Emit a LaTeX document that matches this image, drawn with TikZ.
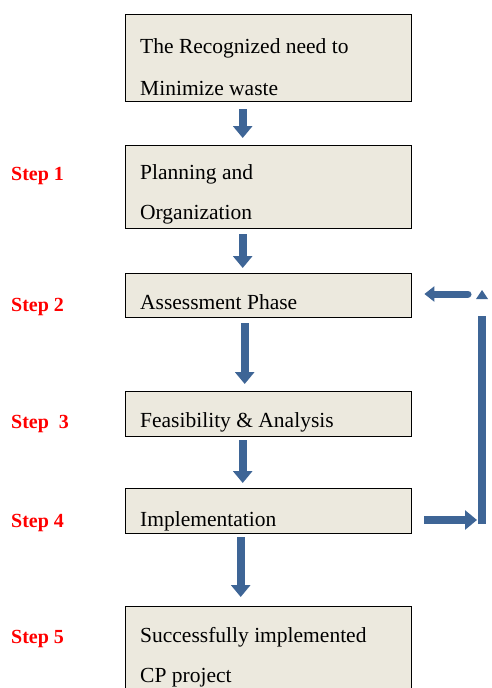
\documentclass[tikz,border=0pt]{standalone}
\usepackage{fontspec}
\setmainfont{Liberation Serif}
\usetikzlibrary{arrows.meta}
\definecolor{boxfill}{HTML}{ECE9DE}
\definecolor{arrblue}{HTML}{3E6596}
\tikzset{
  box/.style={draw=black, line width=1.4pt, fill=boxfill, inner sep=0pt, anchor=north west, minimum width=286pt},
  txt/.style={anchor=base west, inner sep=0pt, font=\fontsize{21.5}{21.5}\selectfont},
  steplbl/.style={anchor=base west, inner sep=0pt, text=red, font=\bfseries\fontsize{20}{20}\selectfont},
  blockarrow/.style={draw=arrblue, line width=8pt, -{Triangle[width=19pt,length=12pt]}},
  smallarrow/.style={draw=arrblue, line width=7pt, line cap=round, -{Triangle[width=15pt,length=10pt]}},
}
\begin{document}
\begin{tikzpicture}[x=1pt,y=-1pt]
\useasboundingbox (0,0) rectangle (492,688);
\clip (0,0) rectangle (492,688);
% boxes
\node[box, minimum height=87pt] (b1) at (125,14) {};
\node[box, minimum height=83pt] (b2) at (125,145) {};
\node[box, minimum height=44pt] (b3) at (125,273) {};
\node[box, minimum height=45pt] (b4) at (125,391) {};
\node[box, minimum height=45pt] (b5) at (125,488) {};
\node[box, minimum height=110pt] (b6) at (125,606) {};
% texts
\node[txt] (t1a) at (140,53) {The Recognized need to};
\node[txt] (t1b) at (140,95) {Minimize waste};
\node[txt] (t2a) at (140,179) {Planning and};
\node[txt] (t2b) at (140,219) {Organization};
\node[txt] (t3) at (140,309) {Assessment Phase};
\node[txt] (t4) at (140,427) {Feasibility \& Analysis};
\node[txt] (t5) at (140,526) {Implementation};
\node[txt] (t6a) at (140,642) {Successfully implemented};
\node[txt] (t6b) at (140,682) {CP project};
% step labels
\node[steplbl] (s1) at (11,180) {Step 1};
\node[steplbl] (s2) at (11,311) {Step 2};
\node[steplbl] (s3) at (11,428) {Step\ \ 3};
\node[steplbl] (s4) at (11,527) {Step 4};
\node[steplbl] (s5) at (11,643) {Step 5};
% down arrows
\draw[blockarrow, shorten <=7pt, shorten >=7pt] ([xshift=-26pt]b1.south) -- ([xshift=-26pt]b2.north);
\draw[blockarrow, shorten <=5pt, shorten >=5pt] ([xshift=-26pt]b2.south) -- ([xshift=-26pt]b3.north);
\draw[blockarrow, shorten <=5pt, shorten >=7pt] ([xshift=-24pt]b3.south) -- ([xshift=-24pt]b4.north);
\draw[blockarrow, shorten <=3pt, shorten >=5pt] ([xshift=-26pt]b4.south) -- ([xshift=-26pt]b5.north);
\draw[blockarrow, shorten <=3pt, shorten >=9pt] ([xshift=-28pt]b5.south) -- ([xshift=-28pt]b6.north);
% feedback loop
\coordinate (fbin) at (477,520);
\coordinate (fbbot) at (482,524);
\coordinate (fbtop) at (482,316);
\coordinate (fbstart) at (468,294);
\draw[blockarrow, shorten <=12pt] (b5.east |- fbin) -- (fbin);
\draw[draw=arrblue, line width=8pt] (fbbot) -- (fbtop);
\fill[arrblue] (476,299) -- (488,299) -- (482,290) -- cycle;
\draw[smallarrow, shorten >=12pt] (fbstart) -- (b3.east |- fbstart);
\end{tikzpicture}
\end{document}
